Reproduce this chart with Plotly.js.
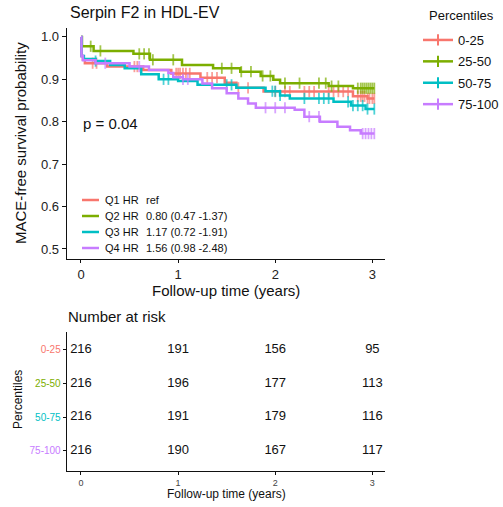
<!DOCTYPE html>
<html><head><meta charset="utf-8">
<script src="https://cdn.plot.ly/plotly-3.0.1.min.js"></script>
<style>html,body{margin:0;padding:0;background:#fff}#c{width:503px;height:507px}</style>
</head><body><div id="c"></div>
<script>
// ---- data ----
var groups = ["0-25","25-50","50-75","75-100"];
var colors = ["#F8766D","#7CAE00","#00BFC4","#C77CFF"];
// Kaplan-Meier step points (time in years, survival)
var stepT_0_25  = [0,0.005,0.02,0.04,0.27,0.64,0.93,1.23,1.48,1.60,1.88,2.80,2.95];
var stepS_0_25  = [1,0.955,0.946,0.938,0.930,0.922,0.914,0.904,0.892,0.880,0.871,0.860,0.855];
var stepT_25_50 = [0,0.01,0.13,0.54,0.71,1.04,1.36,1.64,1.85,1.98,2.05,2.55,2.80];
var stepS_25_50 = [1,0.978,0.967,0.960,0.946,0.934,0.926,0.918,0.908,0.899,0.891,0.884,0.879];
var stepT_50_75 = [0,0.005,0.03,0.15,0.30,0.45,0.62,0.80,1.00,1.20,1.60,1.90,2.05,2.15,2.60,2.78,2.93];
var stepS_50_75 = [1,0.955,0.948,0.943,0.934,0.926,0.912,0.900,0.896,0.887,0.880,0.872,0.862,0.855,0.847,0.838,0.830];
var stepT_75_100= [0,0.005,0.02,0.15,0.50,0.70,0.90,0.95,1.05,1.25,1.35,1.50,1.62,1.72,1.80,2.20,2.30,2.46,2.64,2.77,2.88];
var stepS_75_100= [1,0.955,0.945,0.938,0.930,0.922,0.915,0.905,0.900,0.890,0.879,0.867,0.855,0.843,0.833,0.828,0.812,0.800,0.788,0.780,0.772];
// censoring times
var cens_0_25  = [0.12,0.16,0.55,0.58,0.98,1.00,1.02,1.05,1.08,1.12,1.30,1.35,1.40,1.62,1.72,2.00,2.10,2.15,2.30,2.35,2.40,2.55,2.60,2.65,2.70,2.75,2.85,2.88,2.90,2.92,2.95,2.97,3.00,3.02];
var cens_25_50 = [0.10,0.20,0.60,0.65,0.70,0.74,0.95,1.45,1.55,1.65,1.75,1.87,1.95,2.10,2.25,2.45,2.52,2.58,2.65,2.85,2.88,2.90,2.92,2.94,2.96,2.98,3.00,3.02];
var cens_50_75 = [0.15,0.85,0.90,1.50,1.55,1.97,2.00,2.05,2.30,2.45,2.50,2.55,2.75,2.80,2.85,2.90,2.95,3.02];
var cens_75_100= [0.25,0.60,1.05,1.10,1.90,2.00,2.10,2.35,2.45,2.90,2.93,2.96,2.99,3.02];
// inner HR legend
var hrLabels = ["Q1 HR","Q2 HR","Q3 HR","Q4 HR"];
var hrValues = ["ref","0.80 (0.47 -1.37)","1.17 (0.72 -1.91)","1.56 (0.98 -2.48)"];
var pText = "p = 0.04";
// number at risk
var riskTimes = [0,1,2,3];
var risk_0_25  = [216,191,156,95];
var risk_25_50 = [216,196,177,113];
var risk_50_75 = [216,191,179,116];
var risk_75_100= [216,190,167,117];

var stepsT = [stepT_0_25,stepT_25_50,stepT_50_75,stepT_75_100];
var stepsS = [stepS_0_25,stepS_25_50,stepS_50_75,stepS_75_100];
var cens = [cens_0_25,cens_25_50,cens_50_75,cens_75_100];
var risks = [risk_0_25,risk_25_50,risk_50_75,risk_75_100];

function sAt(T,S,t){var v=S[0];for(var i=0;i<T.length;i++){if(T[i]<=t)v=S[i];}return v;}

var traces=[];
for(var g=0;g<4;g++){
  var pts=[];
  for(var i=0;i<stepsT[g].length;i++)pts.push({t:stepsT[g][i],s:stepsS[g][i],c:0});
  for(var j=0;j<cens[g].length;j++)pts.push({t:cens[g][j],s:sAt(stepsT[g],stepsS[g],cens[g][j]),c:1});
  pts.sort(function(a,b){return a.t-b.t||a.c-b.c;});
  traces.push({x:pts.map(function(p){return p.t;}),y:pts.map(function(p){return p.s;}),
    mode:'lines+markers',line:{shape:'hv',color:colors[g],width:2.5},
    marker:{symbol:'line-ns-open',size:pts.map(function(p){return p.c?8:0;}),color:colors[g],line:{color:colors[g],width:1.8}},
    showlegend:false,xaxis:'x',yaxis:'y',hoverinfo:'skip'});
}
for(var g=0;g<4;g++){
  traces.push({x:[null],y:[null],name:groups[g],legendgroup:'g'+g,mode:'lines+markers',
    line:{color:colors[g],width:2.5},marker:{symbol:'line-ns-open',size:8,color:colors[g],line:{color:colors[g],width:2}},
    showlegend:true,xaxis:'x',yaxis:'y'});
}
// risk table text
for(var g=0;g<4;g++){
  traces.push({x:riskTimes,y:riskTimes.map(function(){return 3-g;}),mode:'text',
    text:risks[g].map(String),textposition:'middle center',
    textfont:{family:'Liberation Sans, Arial, sans-serif',size:13,color:'#111'},
    showlegend:false,xaxis:'x2',yaxis:'y2',hoverinfo:'skip'});
}

function px(x){return (x-67)/318;}
function py(y){return (471-y)/443;}

var ann=[], shapes=[];
var hrY=[200,216,232,248];
for(var g=0;g<4;g++){
  shapes.push({type:'line',xref:'paper',yref:'paper',x0:px(82),x1:px(99),y0:py(hrY[g]),y1:py(hrY[g]),line:{color:colors[g],width:2.5}});
  ann.push({xref:'paper',yref:'paper',x:px(103),y:py(hrY[g]),xanchor:'left',yanchor:'middle',showarrow:false,text:hrLabels[g],font:{family:'Liberation Sans Narrow, Liberation Sans, sans-serif',size:11,color:'#111'}});
  ann.push({xref:'paper',yref:'paper',x:px(144),y:py(hrY[g]),xanchor:'left',yanchor:'middle',showarrow:false,text:hrValues[g],font:{family:'Liberation Sans Narrow, Liberation Sans, sans-serif',size:11,color:'#111'}});
}
ann.push({xref:'paper',yref:'paper',x:px(81),y:py(123),xanchor:'left',yanchor:'middle',showarrow:false,text:pText,font:{family:'Liberation Sans, Arial',size:15,color:'#111'}});
ann.push({xref:'paper',yref:'paper',x:px(66),y:py(316),xanchor:'left',yanchor:'middle',showarrow:false,text:'Number at risk',font:{family:'Liberation Sans, Arial',size:15,color:'#111'}});
ann.push({xref:'paper',yref:'paper',x:px(20),y:py(143),xanchor:'center',yanchor:'middle',showarrow:false,textangle:-90,text:'MACE-free survival probability',font:{family:'Liberation Sans, Arial',size:15,color:'#111'}});
ann.push({xref:'paper',yref:'paper',x:px(18),y:py(400),xanchor:'center',yanchor:'middle',showarrow:false,textangle:-90,text:'Percentiles',font:{family:'Liberation Sans, Arial',size:12,color:'#111'}});
ann.push({xref:'paper',yref:'paper',x:px(226),y:py(290),xanchor:'center',yanchor:'middle',showarrow:false,text:'Follow-up time (years)',font:{family:'Liberation Sans, Arial',size:15,color:'#111'}});
ann.push({xref:'paper',yref:'paper',x:px(226),y:py(494),xanchor:'center',yanchor:'middle',showarrow:false,text:'Follow-up time (years)',font:{family:'Liberation Sans, Arial',size:12,color:'#111'}});
ann.push({xref:'paper',yref:'paper',x:px(427),y:py(16),xanchor:'left',yanchor:'middle',showarrow:false,text:'Percentiles',font:{family:'Liberation Sans, Arial',size:13,color:'#111'}});

var tickTextColored = groups.slice().reverse().map(function(n,i){return '<span style="color:'+colors[3-i]+'">'+n+'</span>';});

var layout={
  width:503,height:507,paper_bgcolor:'#fff',plot_bgcolor:'#fff',
  margin:{l:67,r:118,t:28,b:36},
  font:{family:'Liberation Sans, Arial, sans-serif',color:'#111'},
  title:{text:'Serpin F2 in HDL-EV',x:70/503,xref:'container',xanchor:'left',y:1-12/507,yref:'container',yanchor:'middle',font:{size:16,color:'#111'}},
  xaxis:{domain:[0,1],range:[-0.144,3.13],tickvals:[0,1,2,3],ticktext:['0','1','2','3'],showgrid:false,zeroline:false,
    showline:true,linecolor:'#111',linewidth:1.3,ticks:'outside',ticklen:3,tickcolor:'#111',tickfont:{size:13,color:'#222'},anchor:'y'},
  yaxis:{domain:[py(259),1],range:[0.4764,1.021],tickvals:[0.5,0.6,0.7,0.8,0.9,1.0],ticktext:['0.5','0.6','0.7','0.8','0.9','1.0'],
    showgrid:false,zeroline:false,showline:true,linecolor:'#111',linewidth:1.3,ticks:'outside',ticklen:4,tickcolor:'#111',tickfont:{size:13,color:'#222'},anchor:'x'},
  xaxis2:{domain:[0,1],range:[-0.144,3.13],tickvals:[0,1,2,3],ticktext:['0','1','2','3'],showgrid:false,zeroline:false,
    showline:true,linecolor:'#111',linewidth:1.3,ticks:'outside',ticklen:3,tickcolor:'#111',tickfont:{size:9,color:'#444'},anchor:'y2'},
  yaxis2:{domain:[0,py(331.5)],range:[-0.6,3.55],tickvals:[0,1,2,3],ticktext:tickTextColored,showgrid:false,zeroline:false,
    showline:true,linecolor:'#111',linewidth:1.3,ticks:'outside',ticklen:3,tickcolor:'#111',tickfont:{size:10},anchor:'x2'},
  legend:{x:418/503,xref:'container',xanchor:'left',y:1-25/507,yref:'container',yanchor:'top',
    font:{size:13,color:'#111'},bgcolor:'rgba(0,0,0,0)',tracegroupgap:1.5,itemwidth:30},
  annotations:ann,shapes:shapes,showlegend:true
};
Plotly.newPlot('c',traces,layout,{displayModeBar:false,staticPlot:true});
</script></body></html>
